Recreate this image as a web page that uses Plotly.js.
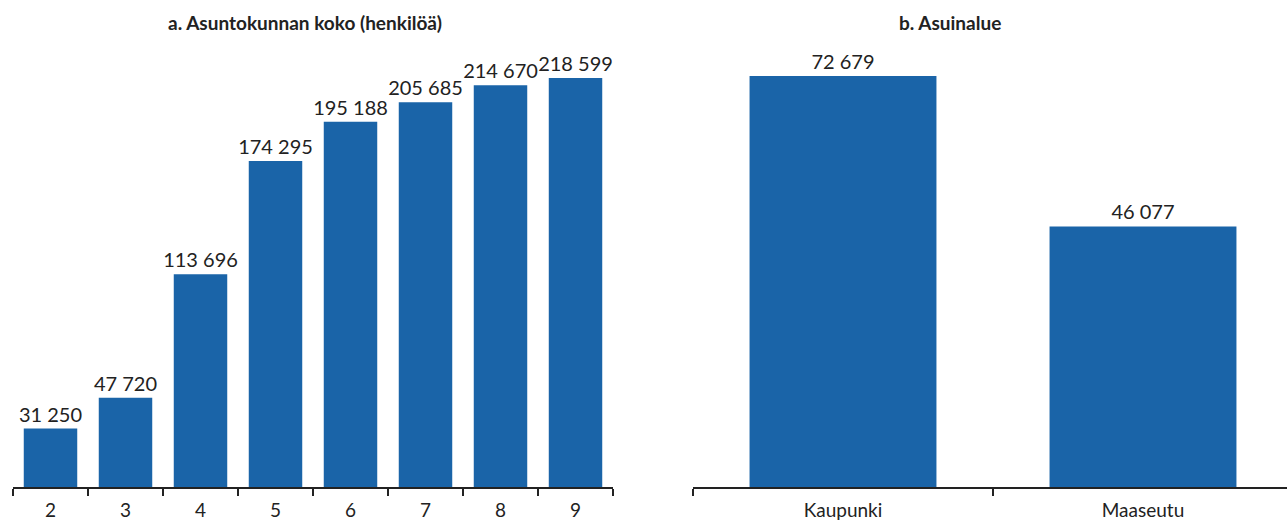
<!DOCTYPE html>
<html>
<head>
<meta charset="utf-8">
<script src="https://cdn.plot.ly/plotly-3.0.1.min.js"></script>
<style>html,body{margin:0;padding:0;background:#fff;}#chart{width:1287px;height:523px;}</style>
</head>
<body>
<div id="chart"></div>
<script>
const sizeCategories = ["2", "3", "4", "5", "6", "7", "8", "9"];
const sizeValues = [31250, 47720, 113696, 174295, 195188, 205685, 214670, 218599];
const areaCategories = ["Kaupunki", "Maaseutu"];
const areaValues = [72679, 46077];
const titleA = "a. Asuntokunnan koko (henkilöä)";
const titleB = "b. Asuinalue";

const fmt = v => String(v).replace(/\B(?=(\d{3})+(?!\d))/g, " ");
const barColor = "#1a64a8";
const fontFam = "Lato, 'Open Sans', sans-serif";

const traces = [
  {
    type: "bar", x: sizeCategories, y: sizeValues, width: 0.713,
    text: sizeValues.map(fmt), textposition: "outside", cliponaxis: false, constraintext: "none",
    textfont: {size: 20, color: "#222", family: fontFam},
    marker: {color: barColor}, xaxis: "x", yaxis: "y", hoverinfo: "x+y"
  },
  {
    type: "bar", x: areaCategories, y: areaValues, width: 0.623,
    text: areaValues.map(fmt), textposition: "outside", cliponaxis: false, constraintext: "none",
    textfont: {size: 20, color: "#222", family: fontFam},
    marker: {color: barColor}, xaxis: "x2", yaxis: "y2", hoverinfo: "x+y"
  }
];

const xCommon = {
  type: "category", showline: true, linecolor: "#222", linewidth: 2,
  ticks: "outside", tickson: "boundaries", ticklen: 7, tickwidth: 2, tickcolor: "#222",
  tickfont: {size: 19, color: "#222", family: fontFam}, ticklabelstandoff: 5,
  showgrid: false, zeroline: false, fixedrange: true
};
const yCommon = {visible: false, showgrid: false, zeroline: false, fixedrange: true};

const layout = {
  width: 1287, height: 523,
  margin: {l: 13, r: 0, t: 60, b: 36},
  paper_bgcolor: "#fff", plot_bgcolor: "#fff",
  showlegend: false,
  font: {family: fontFam, color: "#222"},
  xaxis: Object.assign({}, xCommon, {domain: [0, 0.47096], range: [-0.5, 7.5]}),
  yaxis: Object.assign({}, yCommon, {range: [0, 228220]}),
  xaxis2: Object.assign({}, xCommon, {domain: [0.53375, 1], range: [-0.5, 1.48], anchor: "y2"}),
  yaxis2: Object.assign({}, yCommon, {range: [0, 75508], anchor: "x2"}),
  annotations: [
    {text: "<b>" + titleA + "</b>", xref: "paper", yref: "paper", x: (304.5 - 13) / 1274, y: 1, yshift: 38,
     xanchor: "center", yanchor: "middle", showarrow: false, font: {size: 19, color: "#222", family: fontFam}},
    {text: "<b>" + titleB + "</b>", xref: "paper", yref: "paper", x: (950 - 13) / 1274, y: 1, yshift: 38,
     xanchor: "center", yanchor: "middle", showarrow: false, font: {size: 19, color: "#222", family: fontFam}}
  ]
};

Plotly.newPlot("chart", traces, layout, {displayModeBar: false, staticPlot: true});
</script>
</body>
</html>
